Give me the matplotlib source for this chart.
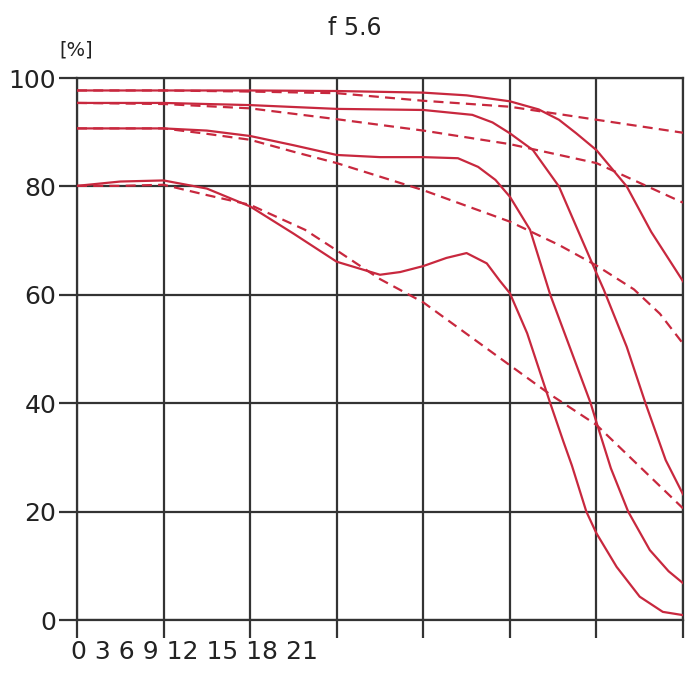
import numpy as np
import matplotlib
matplotlib.use('Agg')
import matplotlib.pyplot as plt

# MTF curves at f 5.6
xA = [0, 3, 6, 9, 12, 13.5, 15, 16, 16.7, 17.3, 18, 19.05, 19.9, 21]
solidA = [97.7, 97.7, 97.7, 97.6, 97.3, 96.8, 95.7, 94.2, 92.3, 89.8, 86.7, 80, 71.6, 62.5]
xAd = [0, 3, 6, 9, 12, 15, 18, 21]
dashA = [97.7, 97.7, 97.5, 97.2, 95.8, 94.7, 92.3, 89.9]

xB = [0, 3, 6, 9, 12, 13.7, 14.4, 15, 15.8, 16.7, 17.3, 18, 18.25, 19.05, 19.7, 20.4, 21]
solidB = [95.4, 95.4, 95.0, 94.3, 94.1, 93.2, 91.8, 89.8, 86.7, 80, 72.6, 64, 61, 50.4, 40, 29.5, 23.2]
xBd = [0, 3, 6, 9, 12, 15, 18, 21]
dashB = [95.4, 95.2, 94.4, 92.4, 90.3, 87.8, 84.3, 77.0]

xC = [0, 3, 4.5, 6, 7.5, 9, 10.5, 12, 13.2, 13.9, 14.5, 15, 15.7, 16.4, 17.1, 17.8, 18, 18.5, 19.1, 19.85, 20.5, 21]
solidC = [90.7, 90.7, 90.3, 89.3, 87.6, 85.8, 85.4, 85.4, 85.2, 83.6, 81.2, 78.1, 72, 60, 50, 40, 36.5, 28, 20, 12.9, 9, 6.8]
xCd = [0, 3, 4.5, 6, 7.5, 9, 12, 15, 16.7, 18, 19.3, 20.2, 21]
dashC = [90.7, 90.7, 89.7, 88.6, 86.4, 84.3, 79.3, 73.5, 69.2, 65.4, 61.0, 56.5, 51.0]

xD = [0, 1.5, 3, 4.5, 6, 7.5, 9, 10.5, 11.2, 12, 12.8, 13.5, 14.2, 14.65, 15, 15.6, 16.4, 16.85, 17.15, 17.65, 18, 18.7, 19.5, 20.3, 21]
solidD = [80.1, 80.9, 81.1, 79.6, 76.3, 71.3, 66.1, 63.7, 64.2, 65.3, 66.8, 67.7, 65.8, 62.6, 60.3, 52.9, 40, 33, 28.5, 20, 16, 9.8, 4.3, 1.5, 0.9]
xDd = [0, 1.5, 3, 4.5, 6, 7.9, 9, 10.5, 12, 15, 16.4, 18, 21]
dashD = [80.1, 80.1, 80.3, 78.4, 76.6, 72, 68.2, 62.9, 58.6, 47.0, 41.6, 36.0, 20.6]

xticks = [0, 3, 6, 9, 12, 15, 18, 21]
xlabels = ['0', '3', '6', '9', '12', '15', '18', '21']
yticks = [0, 20, 40, 60, 80, 100]

red = '#c8283e'
gridc = '#333333'


def mtfChart():
    fig = plt.figure(figsize=(6.93, 6.75), dpi=100)
    ax = fig.add_axes([77/693, 1-620/675, 606/693, 542/675])

    for x, y in [(xA, solidA), (xB, solidB), (xC, solidC), (xD, solidD)]:
        ax.plot(x, y, color=red, lw=1.6, solid_joinstyle='round', zorder=3)
    for x, y in [(xAd, dashA), (xBd, dashB), (xCd, dashC), (xDd, dashD)]:
        ax.plot(x, y, color=red, lw=1.6, dashes=(4.5, 2.8), zorder=3)

    ax.set_xlim(0, 21)
    ax.set_ylim(0, 100)
    ax.set_xticks(xticks)
    ax.set_xticklabels([])
    ax.set_yticks(yticks)
    ax.set_yticklabels([str(v) for v in yticks], fontsize=18, color='#222222')
    ax.tick_params(direction='out', length=13, width=1.6, color=gridc, pad=2)
    ax.grid(True, color=gridc, lw=1.6)
    for s in ax.spines.values():
        s.set_color(gridc)
        s.set_linewidth(1.6)

    # x labels are squeezed together at the left in the original
    ax.annotate(' '.join(xlabels), xy=(0, 0), xytext=(-6, -20),
                textcoords='offset pixels', ha='left', va='top',
                fontsize=18, color='#222222', annotation_clip=False)

    fig.text(355/693, 1-28/675, 'f 5.6', ha='center', va='center', fontsize=17, color='#222222')
    fig.text(76/693, 1-50/675, '[%]', ha='center', va='center', fontsize=14, color='#222222')

    fig.savefig('out.png', dpi=100)


if __name__ == "__main__":
    mtfChart()
